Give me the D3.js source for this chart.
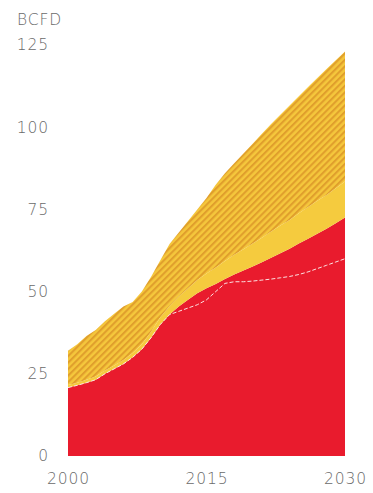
<!DOCTYPE html>
<html>
<head>
<meta charset="utf-8">
<script src="https://cdn.jsdelivr.net/npm/d3@7"></script>
<style>
  html, body { margin: 0; padding: 0; background: #fff; }
  svg { display: block; }
  .lbl { font-family: "DejaVu Sans", sans-serif; font-size: 15.5px; font-weight: 200; fill: #6a6a6a; letter-spacing: 0.9px; }
</style>
</head>
<body>
<script>
// Gas supply, billion cubic feet per day, 2000-2030
const years = d3.range(2000, 2031);

// base supply (red)
const baseSupply = [20.8, 21.5, 22.3, 23.2, 25.0, 26.5, 28.0, 30.0, 32.5, 36.0,
                    40.0, 43.0, 45.5, 47.5, 49.5, 51.0, 52.3, 53.8, 55.2, 56.4,
                    57.6, 58.9, 60.3, 61.7, 63.0, 64.6, 66.1, 67.6, 69.1, 70.8, 72.5];
// additional supply (solid yellow)
const addedSupply = [0.8, 0.8, 0.9, 1.0, 1.0, 1.0, 1.2, 1.3, 1.5, 1.8,
                     2.2, 2.6, 3.0, 3.5, 4.0, 4.5, 5.0, 5.5, 6.0, 6.5,
                     7.0, 7.5, 8.0, 8.4, 8.8, 9.2, 9.6, 10.0, 10.3, 10.6, 11.0];
// total demand (top of hatched band)
const totalDemand = [32.0, 34.0, 36.5, 38.3, 41.0, 43.3, 45.5, 46.8, 50.0, 54.5,
                     59.5, 64.5, 68.0, 71.5, 75.0, 78.5, 82.5, 86.0, 89.0, 92.0,
                     95.0, 98.0, 101.0, 103.8, 106.6, 109.4, 112.2, 115.0, 117.7, 120.4, 123.0];
// reference line (white dashed)
const referenceLine = [20.8, 21.5, 22.3, 23.2, 25.0, 26.5, 28.0, 30.0, 32.5, 36.0,
                       40.0, 43.0, 44.0, 45.0, 46.0, 47.5, 50.0, 52.5, 53.0, 53.0,
                       53.2, 53.5, 53.8, 54.2, 54.6, 55.2, 56.0, 57.0, 58.0, 59.0, 60.0];

const yTicks = [0, 25, 50, 75, 100, 125];
const xTicks = [2000, 2015, 2030];
const unitLabel = "BCFD";

const W = 373, H = 493;
const svg = d3.select("body").append("svg").attr("width", W).attr("height", H);

const x = d3.scaleLinear().domain([2000, 2030]).range([68, 345]);
const y = d3.scaleLinear().domain([0, 125]).range([456, 45]);

// stacked layers: base, added, gap up to total
const rows = years.map((yr, i) => ({
  year: yr,
  base: baseSupply[i],
  added: addedSupply[i],
  gap: totalDemand[i] - baseSupply[i] - addedSupply[i]
}));
const stack = d3.stack().keys(["base", "added", "gap"]);
const layers = stack(rows);

const defs = svg.append("defs");
const pat = defs.append("pattern")
  .attr("id", "hatch")
  .attr("patternUnits", "userSpaceOnUse")
  .attr("width", 4.6).attr("height", 4.6)
  .attr("patternTransform", "rotate(45)");
pat.append("rect").attr("width", 4.6).attr("height", 4.6).attr("fill", "#f5c73c");
pat.append("rect").attr("width", 2.1).attr("height", 4.6).attr("fill", "#e09f2c");

const fills = { base: "#e91b2d", added: "#f5cb3e", gap: "url(#hatch)" };

const area = d3.area()
  .x(d => x(d.data.year))
  .y0(d => y(d[0]))
  .y1(d => y(d[1]))
  .curve(d3.curveLinear);

svg.append("g").selectAll("path")
  .data(layers)
  .join("path")
  .attr("d", area)
  .attr("fill", d => fills[d.key]);

// dashed reference line
const line = d3.line()
  .x((d, i) => x(years[i]))
  .y(d => y(d));
svg.append("path")
  .datum(referenceLine)
  .attr("d", line)
  .attr("fill", "none")
  .attr("stroke", "#fbe3e3")
  .attr("stroke-width", 1)
  .attr("stroke-dasharray", "4,2");

// y tick labels
const yAxis = d3.axisLeft(y).tickValues(yTicks).tickSize(0).tickPadding(0);
const gy = svg.append("g").attr("transform", "translate(49,0)").call(yAxis);
gy.select(".domain").remove();
gy.selectAll("text").attr("class", "lbl").attr("font-family", null).attr("font-size", null).attr("fill", null);

// x tick labels
const xAxis = d3.axisBottom(x).tickValues(xTicks).tickFormat(d3.format("d")).tickSize(0).tickPadding(0);
const gx = svg.append("g").attr("transform", "translate(0,473)").call(xAxis);
gx.select(".domain").remove();
gx.selectAll("text").attr("class", "lbl").attr("font-family", null).attr("font-size", null).attr("fill", null);

// unit label
svg.append("text").attr("class", "lbl").attr("x", 17).attr("y", 25).text(unitLabel);
</script>
</body>
</html>
